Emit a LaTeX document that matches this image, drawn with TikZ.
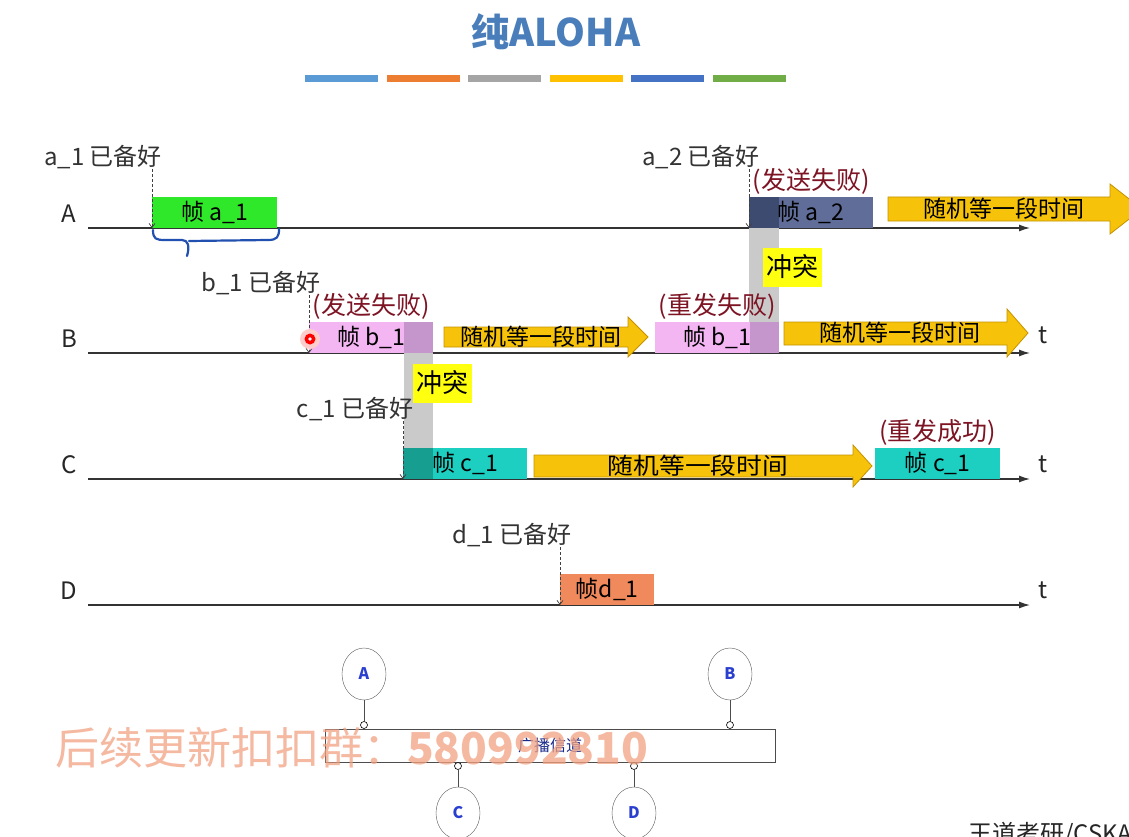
\documentclass[tikz,border=0pt]{standalone}
\usepackage{fontspec}
\setmainfont{Noto Sans CJK SC}
\usetikzlibrary{arrows.meta,positioning,shapes.geometric}

\definecolor{txtgray}{HTML}{333333}
\definecolor{failred}{HTML}{7D1424}
\definecolor{waity}{HTML}{F6C30A}
\definecolor{waitd}{HTML}{C49200}
\definecolor{hity}{HTML}{FFFF10}
\definecolor{band}{HTML}{CACACA}
\definecolor{frgreen}{HTML}{30E82A}
\definecolor{frslate}{HTML}{5F6D98}
\definecolor{frslated}{HTML}{3E4B70}
\definecolor{frpink}{HTML}{F3B6F3}
\definecolor{frpinkd}{HTML}{C596CC}
\definecolor{frteal}{HTML}{1DCFC1}
\definecolor{frteald}{HTML}{169F90}
\definecolor{frorange}{HTML}{F08A5C}
\definecolor{axgray}{HTML}{333333}
\definecolor{titleblue}{HTML}{4A7EBB}
\definecolor{stblue}{HTML}{2A3FCF}
\definecolor{chblue}{HTML}{1A2A8A}
\definecolor{wmsalmon}{HTML}{F2A282}
\definecolor{brblue}{HTML}{2250B0}
\definecolor{barA}{HTML}{5B9BD5}
\definecolor{barB}{HTML}{ED7D31}
\definecolor{barC}{HTML}{A5A5A5}
\definecolor{barD}{HTML}{FFC000}
\definecolor{barE}{HTML}{4472C4}
\definecolor{barF}{HTML}{70AD47}

\begin{document}
\begin{tikzpicture}[x=1pt,y=-1pt,
    lbl/.style={font=\fontsize{24}{24}\selectfont, text=txtgray, inner sep=0pt},
    frm/.style={minimum width=125pt, minimum height=31pt, inner sep=0pt, anchor=south west, font=\fontsize{23}{23}\selectfont},
    note/.style={font=\fontsize{25}{25}\selectfont, text=failred, inner sep=0pt},
    rdy/.style={densely dashed, line width=0.7pt, draw=black!75, -{Straight Barb[length=4pt,width=6pt]}},
    wait/.style={fill=waity, draw=waitd, line width=0.8pt},
    waittxt/.style={font=\fontsize{23}{23}\selectfont, inner sep=0pt},
    hit/.style={fill=hity, font=\fontsize{26}{26}\selectfont, minimum width=59pt, minimum height=39pt, inner sep=0pt},
    darkL/.style={path picture={\fill[#1] (path picture bounding box.north west) rectangle ([xshift=30pt]path picture bounding box.south west);}},
    darkR/.style={path picture={\fill[#1] ([xshift=-29pt]path picture bounding box.north east) rectangle (path picture bounding box.south east);}},
    axis/.style={line width=1.3pt, draw=axgray, -{Latex[length=11pt,width=7pt]}},
    stn/.style={ellipse, draw=black!65, fill=white, minimum width=44pt, minimum height=52pt, inner sep=0pt, text=stblue, font=\bfseries\fontsize{16}{16}\selectfont},
    port/.style={circle, draw=black, fill=white, minimum size=7pt, inner sep=0pt, line width=0.6pt}]

    % page and margins
    \fill[white] (0,0) rectangle (1129,837);
    \useasboundingbox (0,0) rectangle (1129,837);

    % title and colour bars
    \node[font=\bfseries\fontsize{38}{38}\selectfont, text=titleblue] (title) at (556,32) {纯ALOHA};
    \foreach \c [count=\i] in {barA,barB,barC,barD,barE,barF}
        \fill[\c] ({305+(\i-1)*81.6},75) rectangle ++(73,7);

    % time axes of the four stations
    \foreach \n/\y in {A/228,B/353,C/479,D/605} {
        \node[lbl, text=black!85] (row\n) at (69,\y-14) {\n};
        \draw[axis] (88,\y) -- (1030,\y);
    }
    \node[lbl, text=black!85] (tB) at (1043,335) {t};
    \node[lbl, text=black!85] (tC) at (1043,464) {t};
    \node[lbl, text=black!85] (tD) at (1043,590) {t};

    % collision bands
    \fill[band] (749,228) rectangle (779,322);
    \fill[band] (404,353) rectangle (433,448);

    % frames
    \node[frm, fill=frgreen] (a1) at (152,228) {帧 a\_1};
    \node[frm, fill=frslate, darkL=frslated, minimum width=124pt] (a2) at (749,228) {帧 a\_2};
    \node[frm, fill=frpink, darkR=frpinkd, minimum width=124pt] (b1) at (309,353) {帧 b\_1};
    \node[frm, fill=frpink, darkR=frpinkd, minimum width=124pt] (b1x) at (655,353) {帧 b\_1};
    \node[frm, fill=frteal, darkL=frteald, minimum width=124pt] (c1) at (403,479) {帧 c\_1};
    \node[frm, fill=frteal] (c1x) at (875,479) {帧 c\_1};
    \node[frm, fill=frorange, minimum width=94pt] (d1) at (560,605) {帧d\_1};

    % ready labels and dashed arrows
    \node[lbl] (a1r) at (103,157) {a\_1 已备好};
    \node[lbl] (a2r) at (701,157) {a\_2 已备好};
    \node[lbl] (b1r) at (261,283) {b\_1 已备好};
    \node[lbl] (c1r) at (355,409) {c\_1 已备好};
    \node[lbl] (d1r) at (512,535) {d\_1 已备好};
    \draw[rdy] (a1r.south -| a1.south west) -- (a1.south west);
    \draw[rdy] (a2r.south -| a2.south west) -- (a2.south west);
    \draw[rdy] (b1r.south -| b1.south west) -- (b1.south west);
    \draw[rdy] (c1r.south -| c1.south west) -- (c1.south west);
    \draw[rdy] (d1r.south -| d1.south west) -- (d1.south west);

    % results
    \node[note, above=2pt of a2] (fa2) {(发送失败)};
    \node[note, above=2pt of b1] (fb1) {(发送失败)};
    \node[note, above=2pt of b1x] (fb1x) {(重发失败)};
    \node[note, above=2pt of c1x] (okc1x) {(重发成功)};

    % collisions
    \node[hit] (hitAB) at (792,267) {冲突};
    \node[hit] (hitBC) at (442,383) {冲突};

    % random back-off arrows
    \draw[wait] (888,197) -- (1110,197) -- (1110,184) -- (1142,209) -- (1110,234) -- (1110,221) -- (888,221) -- cycle;
    \node[waittxt] (wA) at (1004,209) {随机等一段时间};
    \draw[wait] (444,327) -- (628,327) -- (628,317) -- (648,337) -- (628,357) -- (628,347) -- (444,347) -- cycle;
    \node[waittxt] (wB1) at (541,337) {随机等一段时间};
    \draw[wait] (784,322) -- (1007,322) -- (1007,309) -- (1028,333) -- (1007,357) -- (1007,345) -- (784,345) -- cycle;
    \node[waittxt] (wB2) at (900,333) {随机等一段时间};
    \draw[wait] (534,455) -- (853,455) -- (853,445) -- (872,466) -- (853,487) -- (853,477) -- (534,477) -- cycle;
    \node[waittxt, xscale=1.12] (wC) at (698,466) {随机等一段时间};

    % hand drawn brace under a_1
    \draw[brblue, line width=2.2pt, line cap=round, line join=round]
        (153,230) .. controls (153,239) and (156,240) .. (165,240) -- (182,240)
        .. controls (188,240) and (190,246) .. (187,256);
    \draw[brblue, line width=2.2pt, line cap=round, line join=round]
        (189,241) -- (268,240) .. controls (277,240) and (279,237) .. (279,229);

    % pointer dot
    \fill[red!20] (310,339) circle (10);
    \fill[red] (310,339) circle (5.5);
    \fill[white] (310,339) circle (1.8);

    % broadcast channel
    \node[draw=black!70, fill=white, minimum width=450pt, minimum height=33pt, inner sep=0pt, font=\fontsize{16}{16}\selectfont, text=chblue] (ch) at (550,745.5) {广播信道};
    \node[stn] (stA) at (364,674) {A};
    \node[stn] (stB) at (730,674) {B};
    \node[stn] (stC) at (458,813) {C};
    \node[stn] (stD) at (634,813) {D};
    \node[port] (pA) at (364,725) {};
    \node[port] (pB) at (730,725) {};
    \node[port] (pC) at (458,766) {};
    \node[port] (pD) at (634,766) {};
    \draw[black!70] (stA) -- (pA);
    \draw[black!70] (stB) -- (pB);
    \draw[black!70] (stC) -- (pC);
    \draw[black!70] (stD) -- (pD);

    % overlays
    \node[font=\fontsize{44}{44}\selectfont, text=wmsalmon, opacity=0.75, anchor=west, inner sep=0pt] (wm) at (55,748) {后续更新扣扣群：\textbf{580992810}};
    \node[anchor=north west, font=\fontsize{24}{24}\selectfont, text=black!85, inner sep=0pt] (ft) at (968,822) {王道考研/CSKAOYAN};
\end{tikzpicture}
\end{document}
